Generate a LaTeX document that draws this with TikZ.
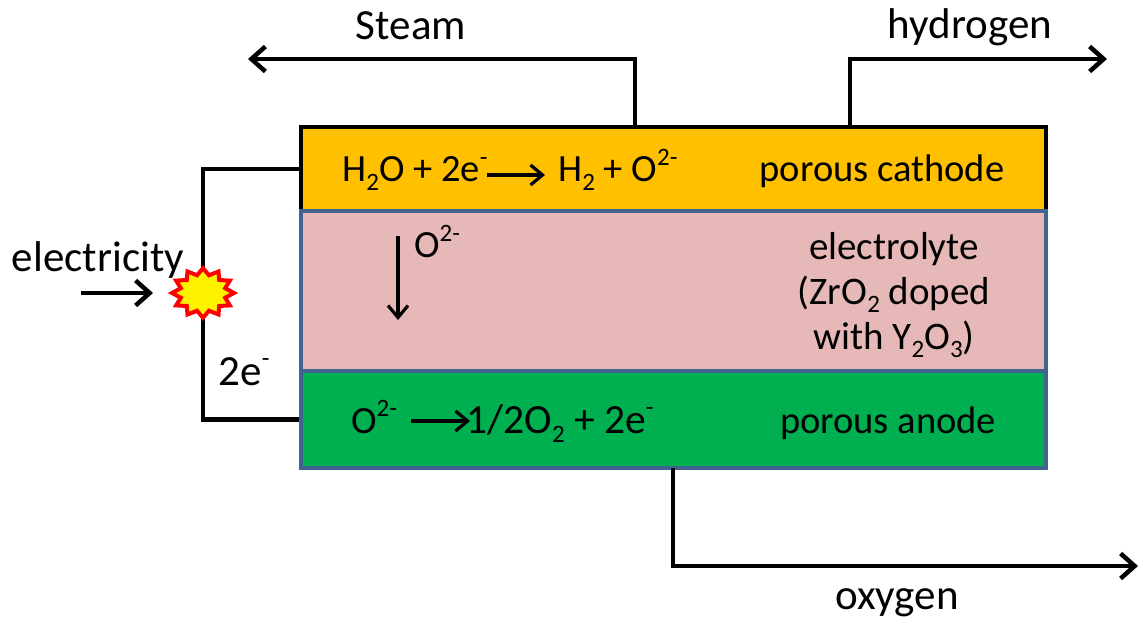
\documentclass[tikz,border=0pt]{standalone}
\usepackage{fontspec}
\setmainfont{Carlito}
\usetikzlibrary{shapes,arrows.meta}
\definecolor{cathodecol}{HTML}{FFC000}
\definecolor{electrolytecol}{HTML}{E6B8B7}
\definecolor{anodecol}{HTML}{00B050}
\definecolor{edgecol}{HTML}{41638F}
\tikzstyle{layer} = [draw=edgecol, rectangle, line width=4.5pt, inner sep=0pt,
    minimum width=745pt]
\tikzstyle{label} = [font=\fontsize{38.5}{44}\selectfont, inner sep=0pt, align=center, anchor=base]
\tikzstyle{biglabel} = [label, font=\fontsize{43}{50}\selectfont]
\tikzstyle{burst} = [draw=red, fill=yellow, star, star points=12, transform shape, yscale=0.8,
    star point ratio=1.35, minimum size=62pt, inner sep=0pt, line width=4pt]
\tikzstyle{flow} = [line width=4.5pt, -{Straight Barb[length=14pt,width=25pt,line width=4.5pt]}]
\tikzstyle{thinflow} = [line width=3.2pt, -{Straight Barb[length=12pt,width=20pt,line width=3.2pt]}]
\tikzstyle{wire} = [line width=4.5pt]
\newcommand{\sub}[1]{\raisebox{-0.22em}{\fontsize{25}{25}\selectfont #1}}
\newcommand{\sups}[1]{\raisebox{0.42em}{\fontsize{25}{25}\selectfont #1}}

\begin{document}
\begin{tikzpicture}[x=1pt,y=-1pt]
    \useasboundingbox (0,0) rectangle (1138,620);
    % The three layers of the cell
    \node [layer, draw=black, fill=cathodecol, minimum height=84pt] (cathode) at (673.5,169) {};
    \node [layer, fill=electrolytecol, minimum height=160pt] (electrolyte) at (673.5,291) {};
    \node [layer, fill=anodecol, minimum height=97pt] (anode) at (673.5,419.5) {};

    % Free ends of the gas lines
    \coordinate (steamin) at (635,127);
    \coordinate (steamout) at (248,59);
    \coordinate (hydrogenin) at (850,127);
    \coordinate (hydrogenout) at (1107,59);
    \coordinate (oxygenin) at (673,468);
    \coordinate (oxygenout) at (1138,566);
    \coordinate (powerin) at (81,293);
    \coordinate (powerout) at (153,293);
    \coordinate (sparkpoint) at (203,293);

    \draw [flow] (steamin) |- (steamout);
    \draw [flow] (hydrogenin) |- (hydrogenout);
    \draw [flow] (oxygenin) |- (oxygenout);
    \draw [flow] (powerin) -- (powerout);

    % Labels outside the cell
    \node [biglabel] (steam) at (411,40) {Steam};
    \node [biglabel] (hydrogen) at (970,39) {hydrogen};
    \node [biglabel] (oxygen) at (897,609) {oxygen};
    \node [biglabel] (electricity) at (98,272) {electricity};
    \node [biglabel] (electrons) at (244,385) {2e\sups{-}};

    % External circuit
    \draw [wire] (cathode.west) -| (sparkpoint);
    \draw [wire] (anode.west) -| (sparkpoint);
    \node [burst] (spark) at (sparkpoint) {};

    % Cathode row
    \node [label] (waterside) at (415,182) {H\sub{2}O + 2e\sups{-}};
    \node [label] (hydrogenside) at (618,182) {H\sub{2} + O\sups{2-}};
    \node [label] (cathodename) at (882,182) {porous cathode};
    \coordinate (cathodeleft) at (487,175);
    \coordinate (cathoderight) at (545,175);
    \draw [thinflow] (cathodeleft) -- (cathoderight);

    % Electrolyte
    \node [label] (ion) at (437,258) {O\sups{2-}};
    \node [label, anchor=center, font=\fontsize{39}{45}\selectfont] (electrolytename) at (894,295) {electrolyte\\(ZrO\sub{2} doped\\with Y\sub{2}O\sub{3})};
    \coordinate (ionstart) at (398,236);
    \coordinate (ionend) at (398,320);
    \draw [thinflow] (ionstart) -- (ionend);

    % Anode row
    \node [label] (anodeion) at (374,433) {O\sups{2-}};
    \node [label, font=\fontsize{41.5}{44}\selectfont] (oxygenside) at (560,433) {1/2O\sub{2} + 2e\sups{-}};
    \node [label] (anodename) at (888,433) {porous anode};
    \coordinate (anodeleft) at (411,421);
    \coordinate (anoderight) at (470,421);
    \draw [thinflow] (anodeleft) -- (anoderight);
\end{tikzpicture}
\end{document}
